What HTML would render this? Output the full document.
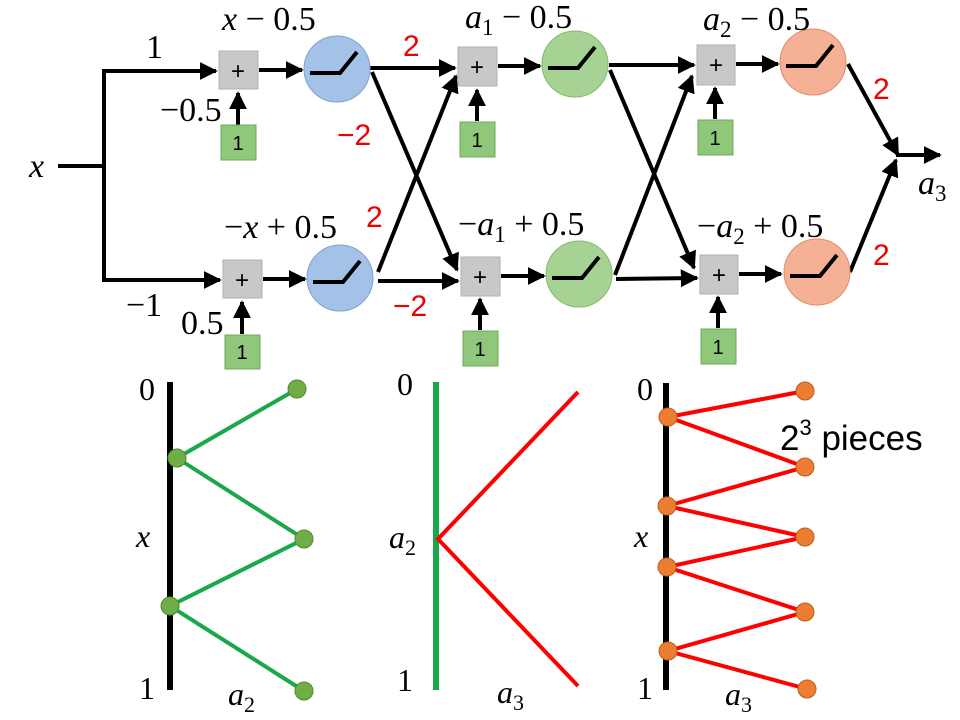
<!DOCTYPE html>
<html><head><meta charset="utf-8"><style>
html,body{margin:0;padding:0;background:#fff}
svg{display:block}
</style></head><body>
<svg width="960" height="720" viewBox="0 0 960 720" xmlns="http://www.w3.org/2000/svg">
<defs>
<marker id="a" viewBox="0 0 10 10" refX="9" refY="5" markerWidth="4.5" markerHeight="4.5" orient="auto" markerUnits="strokeWidth"><path d="M0,0 L10,5 L0,10 z" fill="#000"/></marker>
<g id="relu"><path d="M-27,4 L3,4 L20,-17" fill="none" stroke="#000" stroke-width="4"/></g>
</defs>
<g stroke="#000" stroke-width="4" fill="none">
<path d="M58,166 H104 M104,69 V282 M104,71 H108"/>
<line x1="104" y1="71" x2="216" y2="71" marker-end="url(#a)"/>
<line x1="106" y1="280" x2="220" y2="280" marker-end="url(#a)"/>
<line x1="259" y1="70" x2="302" y2="70" marker-end="url(#a)"/>
<line x1="263" y1="279" x2="305" y2="279" marker-end="url(#a)"/>
<line x1="238" y1="125" x2="238" y2="93" marker-end="url(#a)"/>
<line x1="242" y1="334" x2="242" y2="302" marker-end="url(#a)"/>
<line x1="370" y1="68" x2="455" y2="68" marker-end="url(#a)"/>
<line x1="378" y1="281" x2="458" y2="281" marker-end="url(#a)"/>
<line x1="372" y1="72" x2="457" y2="270" marker-end="url(#a)"/>
<line x1="378" y1="272" x2="456" y2="76" marker-end="url(#a)"/>
<line x1="498" y1="66" x2="540" y2="66" marker-end="url(#a)"/>
<line x1="501" y1="276" x2="544" y2="276" marker-end="url(#a)"/>
<line x1="477" y1="121" x2="477" y2="90" marker-end="url(#a)"/>
<line x1="480" y1="330" x2="480" y2="299" marker-end="url(#a)"/>
<line x1="609" y1="65" x2="694" y2="65" marker-end="url(#a)"/>
<line x1="616" y1="279" x2="697" y2="278" marker-end="url(#a)"/>
<line x1="610" y1="70" x2="694" y2="268" marker-end="url(#a)"/>
<line x1="615" y1="275" x2="692" y2="76" marker-end="url(#a)"/>
<line x1="736" y1="64" x2="778" y2="64" marker-end="url(#a)"/>
<line x1="739" y1="274" x2="781" y2="274" marker-end="url(#a)"/>
<line x1="715" y1="119" x2="715" y2="88" marker-end="url(#a)"/>
<line x1="718" y1="328" x2="718" y2="297" marker-end="url(#a)"/>
<line x1="848" y1="64" x2="898" y2="155" marker-end="url(#a)"/>
<line x1="850" y1="272" x2="896" y2="160" marker-end="url(#a)"/>
<line x1="896" y1="155" x2="940" y2="155" marker-end="url(#a)"/>
</g>
<g fill="#c8c8c8" stroke="#b0b0b0" stroke-width="1">
<rect x="219" y="51" width="39" height="38"/><rect x="223" y="260" width="39" height="38"/>
<rect x="458" y="47" width="39" height="39"/><rect x="461" y="257" width="39" height="39"/>
<rect x="697" y="45" width="38" height="40"/><rect x="700" y="255" width="38" height="39"/>
</g>
<g fill="#8fc87a" stroke="#6fa85a" stroke-width="1">
<rect x="221" y="125" width="35" height="35"/><rect x="225" y="335" width="35" height="34"/>
<rect x="460" y="122" width="35" height="35"/><rect x="463" y="331" width="35" height="35"/>
<rect x="698" y="120" width="35" height="35"/><rect x="701" y="329" width="35" height="35"/>
</g>
<g font-family="Liberation Sans, sans-serif" font-size="24" fill="#000" text-anchor="middle">
<text x="238" y="79">+</text><text x="242" y="288">+</text><text x="477" y="75">+</text><text x="480" y="285">+</text><text x="716" y="73">+</text><text x="719" y="283">+</text>
</g>
<g font-family="Liberation Sans, sans-serif" font-size="20" fill="#000" text-anchor="middle">
<text x="238" y="150">1</text><text x="242" y="359">1</text><text x="477" y="147">1</text><text x="480" y="356">1</text><text x="715" y="145">1</text><text x="718" y="354">1</text>
</g>
<circle cx="337" cy="69" r="33" fill="#a4c2e8" stroke="#7ea3d0"/>
<circle cx="340" cy="278" r="33" fill="#a4c2e8" stroke="#7ea3d0"/>
<circle cx="575" cy="64" r="33" fill="#a6d394" stroke="#85b870"/>
<circle cx="579" cy="274" r="33" fill="#a6d394" stroke="#85b870"/>
<circle cx="813" cy="62" r="33" fill="#f4b196" stroke="#e08e6c"/>
<circle cx="817" cy="272" r="33" fill="#f4b196" stroke="#e08e6c"/>
<use href="#relu" x="337" y="69"/><use href="#relu" x="340" y="278"/>
<use href="#relu" x="575" y="64"/><use href="#relu" x="579" y="274"/>
<use href="#relu" x="813" y="62"/><use href="#relu" x="817" y="272"/>
<g font-family="Liberation Serif, serif" font-size="34" fill="#000">
<text x="29" y="177" font-style="italic">x</text>
<text x="146" y="58">1</text>
<text x="222" y="30"><tspan font-style="italic">x</tspan> − 0.5</text>
<text x="160" y="121">−0.5</text>
<text x="224" y="238">−<tspan font-style="italic">x</tspan> + 0.5</text>
<text x="126" y="316">−1</text>
<text x="181" y="334">0.5</text>
<text x="465" y="28"><tspan font-style="italic">a</tspan><tspan font-size="23" dy="7">1</tspan><tspan dy="-7"> − 0.5</tspan></text>
<text x="458" y="235">−<tspan font-style="italic">a</tspan><tspan font-size="23" dy="7">1</tspan><tspan dy="-7"> + 0.5</tspan></text>
<text x="703" y="30"><tspan font-style="italic">a</tspan><tspan font-size="23" dy="7">2</tspan><tspan dy="-7"> − 0.5</tspan></text>
<text x="697" y="237">−<tspan font-style="italic">a</tspan><tspan font-size="23" dy="7">2</tspan><tspan dy="-7"> + 0.5</tspan></text>
<text x="918" y="194"><tspan font-style="italic">a</tspan><tspan font-size="23" dy="7">3</tspan></text>
</g>
<g font-family="Liberation Sans, sans-serif" font-size="30" fill="#e00">
<text x="403" y="56">2</text><text x="337" y="145">−2</text><text x="366" y="227">2</text><text x="393" y="316">−2</text>
<text x="873" y="99">2</text><text x="873" y="265">2</text>
</g>
<line x1="170" y1="382" x2="170" y2="690" stroke="#000" stroke-width="6"/>
<polyline points="297,389 177,458 304,539 170,606 304,691" fill="none" stroke="#1aa84a" stroke-width="4"/>
<g fill="#70ad47" stroke="#508a30" stroke-width="1">
<circle cx="297" cy="389" r="9"/><circle cx="177" cy="458" r="9"/><circle cx="304" cy="539" r="9"/><circle cx="170" cy="606" r="9"/><circle cx="304" cy="691" r="9"/>
</g>
<line x1="436" y1="382" x2="436" y2="690" stroke="#1aa84a" stroke-width="6"/>
<polyline points="578,392 438,539 578,686" fill="none" stroke="#f00" stroke-width="4"/>
<line x1="666" y1="383" x2="666" y2="690" stroke="#000" stroke-width="6"/>
<polyline points="805,391 668,417 805,467 667,506 805,537 667,567 805,612 668,651 807,689" fill="none" stroke="#f00" stroke-width="4"/>
<g fill="#ed7d31" stroke="#b85f1e" stroke-width="1">
<circle cx="805" cy="391" r="9"/><circle cx="668" cy="417" r="9"/><circle cx="805" cy="467" r="9"/><circle cx="667" cy="506" r="9"/><circle cx="805" cy="537" r="9"/><circle cx="667" cy="567" r="9"/><circle cx="805" cy="612" r="9"/><circle cx="668" cy="651" r="9"/><circle cx="807" cy="689" r="9"/>
</g>
<g font-family="Liberation Serif, serif" font-size="32" fill="#000">
<text x="139" y="400">0</text><text x="136" y="547" font-style="italic">x</text><text x="139" y="699">1</text>
<text x="228" y="705"><tspan font-style="italic">a</tspan><tspan font-size="22" dy="7">2</tspan></text>
<text x="397" y="395">0</text><text x="389" y="548"><tspan font-style="italic">a</tspan><tspan font-size="22" dy="7">2</tspan></text><text x="397" y="691">1</text>
<text x="497" y="703"><tspan font-style="italic">a</tspan><tspan font-size="22" dy="7">3</tspan></text>
<text x="637" y="400">0</text><text x="634" y="547" font-style="italic">x</text><text x="637" y="699">1</text>
<text x="725" y="705"><tspan font-style="italic">a</tspan><tspan font-size="22" dy="7">3</tspan></text>
</g>
<text x="780" y="450" font-family="Liberation Sans, sans-serif" font-size="35" fill="#000">2<tspan font-size="22" dy="-15">3</tspan><tspan dy="15"> pieces</tspan></text>
</svg>
</body></html>
